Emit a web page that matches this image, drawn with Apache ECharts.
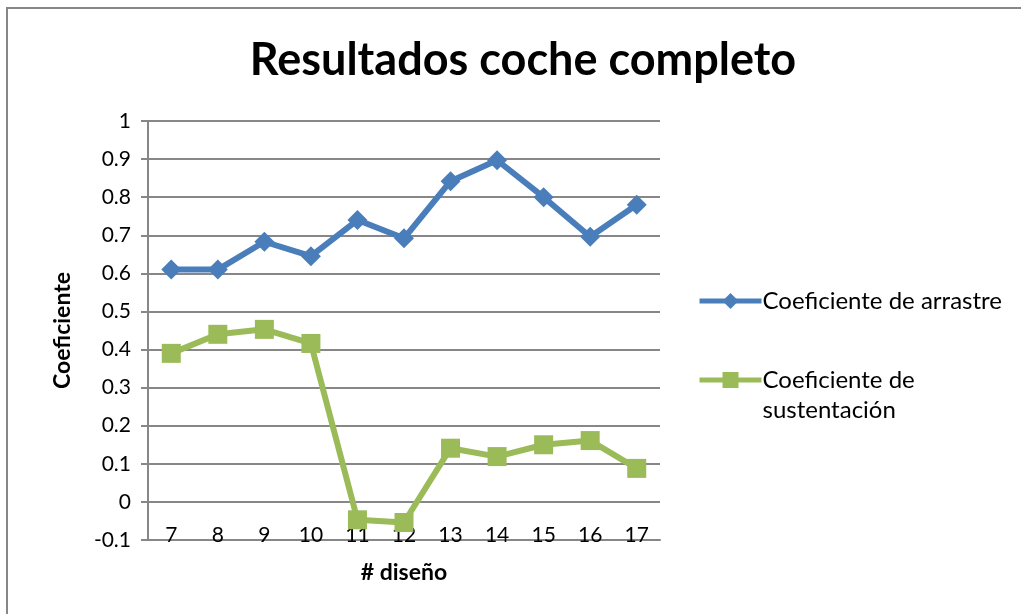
<!DOCTYPE html>
<html>
<head>
<meta charset="utf-8">
<script src="https://cdn.jsdelivr.net/npm/echarts@6/dist/echarts.min.js"></script>
<style>
  html, body { margin: 0; padding: 0; background: #fff; }
  #chart { width: 1021px; height: 614px; }
</style>
</head>
<body>
<div id="chart"></div>
<script>
// Design numbers on the category axis
const designs = ['7', '8', '9', '10', '11', '12', '13', '14', '15', '16', '17'];
// Drag coefficient per design
const dragCoef = [0.61, 0.61, 0.683, 0.645, 0.74, 0.692, 0.842, 0.897, 0.8, 0.696, 0.78];
// Lift coefficient per design
const liftCoef = [0.39, 0.44, 0.453, 0.416, -0.047, -0.054, 0.141, 0.119, 0.15, 0.161, 0.088];

const seriesNames = ['Coeficiente de arrastre', 'Coeficiente de sustentación'];
const FONT = 'Lato';
const BLUE = '#4A7EBB';
const GREEN = '#9BBB59';

const chart = echarts.init(document.getElementById('chart'), null, { renderer: 'canvas' });

chart.setOption({
  animation: false,
  backgroundColor: '#ffffff',
  textStyle: { fontFamily: FONT },
  graphic: [{
    type: 'rect',
    shape: { x: 7, y: 8, width: 1100, height: 700 },
    style: { fill: 'none', stroke: '#878787', lineWidth: 2 },
    silent: true
  }],
  title: {
    text: 'Resultados coche completo',
    left: 518,
    textAlign: 'center',
    top: 33,
    textStyle: { fontFamily: FONT, fontWeight: 'bold', fontSize: 45, color: '#000' }
  },
  legend: [{
    data: [seriesNames[0]],
    left: 692,
    top: 284,
    itemWidth: 62,
    itemHeight: 20,
    lineStyle: { width: 5 },
    textStyle: { fontFamily: FONT, fontSize: 24, color: '#000', padding: [0, 0, 0, -4] }
  }, {
    data: [seriesNames[1]],
    left: 692,
    top: 330,
    itemWidth: 62,
    itemHeight: 20,
    lineStyle: { width: 5 },
    // leading empty line keeps the icon level with the first text line
    formatter: () => '\nCoeficiente de\nsustentación',
    textStyle: { fontFamily: FONT, fontSize: 24, lineHeight: 30, color: '#000', padding: [0, 0, 0, -4] }
  }],
  grid: { left: 148, right: 361, top: 121, bottom: 74, containLabel: false },
  xAxis: {
    type: 'category',
    data: designs,
    boundaryGap: true,
    name: '# diseño',
    nameLocation: 'middle',
    nameGap: 21,
    nameTextStyle: { fontFamily: FONT, fontWeight: 'bold', fontSize: 23, color: '#000' },
    axisLine: { show: true, onZero: false, lineStyle: { color: '#878787', width: 2 } },
    axisTick: { show: false },
    axisLabel: { margin: -15, fontFamily: FONT, fontSize: 21, color: '#000' },
    splitLine: { show: false }
  },
  yAxis: {
    type: 'value',
    min: -0.1,
    max: 1,
    interval: 0.1,
    name: 'Coeficiente',
    nameLocation: 'middle',
    nameGap: 74,
    nameTextStyle: { fontFamily: FONT, fontWeight: 'bold', fontSize: 23, color: '#000' },
    axisLine: { show: true, lineStyle: { color: '#878787', width: 2 } },
    axisTick: { show: true, length: 7, lineStyle: { color: '#878787', width: 2 } },
    axisLabel: {
      margin: 17,
      fontFamily: FONT, fontSize: 21, color: '#000',
      formatter: v => String(Math.round(v * 10) / 10)
    },
    splitLine: { show: true, lineStyle: { color: '#878787', width: 2 } }
  },
  series: [{
    name: seriesNames[0],
    type: 'line',
    data: dragCoef,
    symbol: 'diamond',
    symbolSize: 20,
    showAllSymbol: true,
    lineStyle: { color: BLUE, width: 6 },
    itemStyle: { color: BLUE }
  }, {
    name: seriesNames[1],
    type: 'line',
    data: liftCoef,
    symbol: 'rect',
    symbolSize: 19,
    showAllSymbol: true,
    lineStyle: { color: GREEN, width: 6 },
    itemStyle: { color: GREEN }
  }]
});
</script>
</body>
</html>
